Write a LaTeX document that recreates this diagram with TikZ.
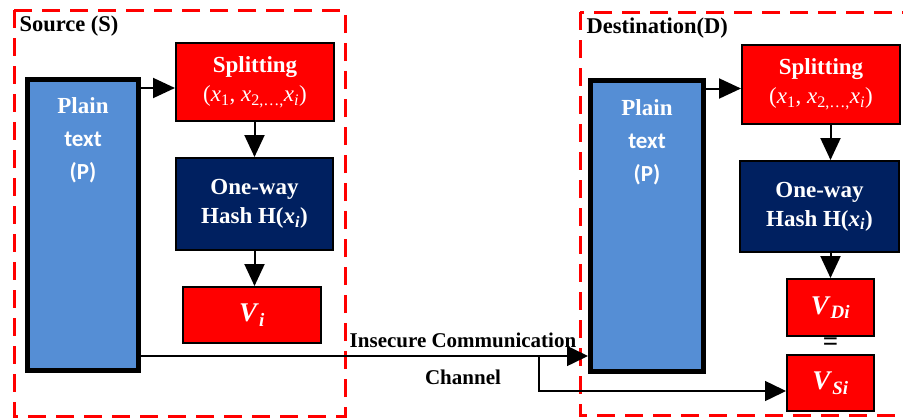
\documentclass[tikz,border=0pt]{standalone}
\usepackage{fontspec}
\setmainfont{Liberation Serif}
\newfontfamily\calfont{Carlito}
\usetikzlibrary{arrows.meta,calc}
\definecolor{redbox}{RGB}{255,0,0}
\definecolor{plainblue}{RGB}{85,142,213}
\definecolor{navy}{RGB}{0,32,96}
% split sequence and hash labels
\newcommand{\splitseq}{{\normalfont(\textit{x}\textsubscript{1}, \textit{x}\textsubscript{2,\dots,}\textit{x}\textsubscript{\textit{i}})}}
\newcommand{\hashof}{H(\textit{x}\textsubscript{\textit{i}})}
\begin{document}
\begin{tikzpicture}[x=1pt,y=-1pt,
  font=\fontsize{21}{28}\selectfont\bfseries,
  boxfont/.style={font=\fontsize{23}{29}\selectfont\bfseries},
  vfont/.style={font=\fontsize{27}{29}\selectfont\bfseries},
  zone/.style={draw=redbox, line width=3pt, dash pattern=on 18pt off 10pt},
  plainbox/.style={draw=black, line width=5pt, fill=plainblue, inner sep=0pt},
  plaintext/.style={text=white, align=center, font=\fontsize{23}{33}\selectfont\bfseries},
  redstep/.style={draw=black, line width=2pt, fill=redbox, text=white, align=center, inner sep=0pt, boxfont},
  hashbox/.style={draw=black, line width=2pt, fill=navy, text=white, align=center, inner sep=0pt, boxfont},
  flow/.style={line width=2pt, -{Triangle[length=22pt,width=20pt]}},
  chan/.style={line width=1.5pt, -{Triangle[length=21pt,width=20pt]}},
  ]
\useasboundingbox (0,0) rectangle (903,418);
\clip (0,0) rectangle (903,418);

% dashed zones
\draw[zone] (14,10) rectangle (345,416);
\draw[zone] (580,12) rectangle (935,415);

\node[anchor=west, font=\fontsize{22.5}{28}\selectfont\bfseries] (srcL) at (16,26) {Source (S)};
\node[anchor=west, font=\fontsize{22.5}{28}\selectfont\bfseries] (dstL) at (583,28) {Destination(D)};

% source side
\node[plainbox, minimum width=111pt, minimum height=291pt] (pS) at (83,225) {};
\node[plaintext] (pSt) at (83,140) {Plain\\ {\calfont text}\\ {\calfont (P)}};
\node[redstep, minimum width=158pt, minimum height=78pt] (sS) at (255,82) {Splitting\\ \splitseq};
\node[hashbox, minimum width=157pt, minimum height=92pt] (hS) at (254.5,204) {One-way\\ Hash \hashof};
\node[redstep, vfont, minimum width=138pt, minimum height=56pt] (vI) at (252,315) {\textit{V}\textsubscript{\textit{i}}};

% destination side
\node[plainbox, minimum width=113pt, minimum height=291pt] (pD) at (647,226) {};
\node[plaintext] (pDt) at (647,142) {Plain\\ {\calfont text}\\ {\calfont (P)}};
\node[redstep, minimum width=158pt, minimum height=79pt] (sD) at (821,84.5) {Splitting\\ \splitseq};
\node[hashbox, minimum width=159pt, minimum height=91pt] (hD) at (819.5,206.5) {One-way\\ Hash \hashof};
\node[redstep, vfont, minimum width=87pt, minimum height=57pt] (vD) at (830.5,307.5) {\textit{V}\textsubscript{\textit{Di}}};
\node[redstep, vfont, minimum width=87pt, minimum height=56pt] (vS) at (830.5,383) {\textit{V}\textsubscript{\textit{Si}}};
\node[vfont] (eq) at (830.5,344) {=};

% processing flow
\draw[flow] ([yshift=-6pt]sS.west -| pS.east) -- ([yshift=-6pt]sS.west);
\draw[flow] (sS.south -| hS.north) -- (hS.north);
\draw[flow] (hS.south) -- (hS.south |- vI.north);
\draw[flow] ([yshift=-4pt]sD.west -| pD.east) -- ([yshift=-4pt]sD.west);
\draw[flow] (vD.north |- sD.south) -- (vD.north |- hD.north);
\draw[flow] (vD.north |- hD.south) -- (vD.north);

% insecure channel
\coordinate (br) at (539,356);
\draw[chan] (pS.east |- br) -- (pD.west |- br);
\draw[chan] (br) |- ([yshift=-8pt]vS.west);
\node (chA) at (463,340) {Insecure Communication};
\node (chB) at (463,377) {Channel};
\end{tikzpicture}
\end{document}
